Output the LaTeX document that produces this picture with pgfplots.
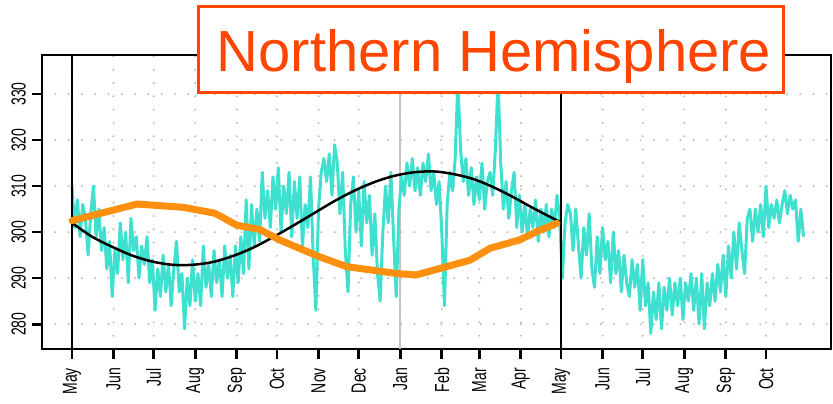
\documentclass[border=0pt]{standalone}
\usepackage{pgfplots}
\pgfplotsset{compat=1.18}
\usepackage{fontspec}
\setmainfont{Liberation Sans}
\usepackage{graphicx}

\definecolor{sst}{RGB}{64,224,208}
\definecolor{clim}{RGB}{255,143,15}
\definecolor{titlered}{RGB}{255,69,0}
\definecolor{gridgray}{RGB}{185,185,185}
\definecolor{jangray}{RGB}{195,195,195}

% tick labels are set a little stretched across their height
\newcommand{\tl}[1]{\scalebox{1}[1.45]{#1}}

\begin{document}
\begin{tikzpicture}
\useasboundingbox (0,0) rectangle (833pt,404pt);
\begin{axis}[
  anchor=south west, at={(42pt,55pt)},
  scale only axis, width=789pt, height=294pt,
  xmin=-22.4, xmax=566.5, ymin=274.6, ymax=338.5,
  axis line style={line width=2.7pt},
  every tick/.style={black, line width=2.7pt},
  tick align=outside, major tick length=10pt, tick pos=left,
  xtick={0,31,61,92,123,153,184,214,245,276,304,335,365,396,426,457,488,518},
  xticklabels={\tl{May},\tl{Jun},\tl{Jul},\tl{Aug},\tl{Sep},\tl{Oct},\tl{Nov},\tl{Dec},\tl{Jan},\tl{Feb},\tl{Mar},\tl{Apr},\tl{May},\tl{Jun},\tl{Jul},\tl{Aug},\tl{Sep},\tl{Oct}},
  ytick={280,290,300,310,320,330},
  yticklabels={\tl{280},\tl{290},\tl{300},\tl{310},\tl{320},\tl{330}},
  tick label style={font=\fontsize{14}{14}\selectfont, inner sep=0pt},
  xticklabel style={rotate=90, anchor=east},
  yticklabel style={rotate=90, anchor=south},
  xticklabel shift=9pt, yticklabel shift=6pt,
  xmajorgrids, ymajorgrids,
  major grid style={gridgray, line width=2.2pt, line cap=round, dash pattern=on 0pt off 13.3pt},
]
% solid marker for the turn of the year
\addplot[jangray, line width=2pt] coordinates {(245,274.6) (245,338.5)};

% daily series, every second day
\addplot[sst, line width=3pt, line join=round] coordinates {
(0,310)(2,301)(4,307)(6,299)(8,306)(10,303)(12,295)(14,304)(16,310)(18,299)
(20,305)(22,296)(24,301)(26,292)(28,298)(30,286)(32,296)(34,291)(36,302)(38,294)
(40,300)(42,289)(44,303)(46,296)(48,299)(50,290)(52,297)(54,293)(56,299)(58,289)
(60,294)(62,283)(64,292)(66,286)(68,295)(70,287)(72,293)(74,284)(76,292)(78,298)
(80,287)(82,291)(84,279)(86,290)(88,284)(90,294)(92,285)(94,291)(96,284)(98,297)
(100,288)(102,293)(104,286)(106,296)(108,289)(110,294)(112,286)(114,297)(116,290)(118,295)
(120,286)(122,297)(124,289)(126,299)(128,291)(130,307)(132,292)(134,306)(136,297)(138,305)
(140,298)(142,313)(144,303)(146,309)(148,301)(150,312)(152,305)(154,314)(156,300)(158,310)
(160,304)(162,313)(164,299)(166,311)(168,303)(170,312)(172,297)(174,306)(176,301)(178,312)
(180,295)(182,283)(184,305)(186,313)(188,316)(190,311)(192,317)(194,308)(196,319)(198,315)
(200,304)(202,313)(204,296)(206,287)(208,306)(210,312)(212,300)(214,309)(216,297)(218,311)
(220,302)(222,308)(224,295)(226,304)(228,291)(230,285)(232,300)(234,310)(236,302)(238,313)
(240,299)(242,286)(244,305)(246,312)(248,308)(250,315)(252,310)(254,316)(256,309)(258,314)
(260,308)(262,315)(264,311)(266,317)(268,309)(270,313)(272,306)(274,311)(276,300)(278,284)
(280,306)(282,313)(284,309)(286,316)(288,333)(290,318)(292,311)(294,316)(296,308)(298,314)
(300,306)(302,312)(304,307)(306,315)(308,305)(310,311)(312,313)(314,308)(316,318)(318,333)
(320,315)(322,305)(324,311)(326,303)(328,309)(330,313)(332,301)(334,308)(336,300)(338,306)
(340,299)(342,305)(344,301)(346,307)(348,298)(350,305)(352,300)(354,306)(356,299)(358,305)
(360,301)(362,308)(364,303)(366,290)(368,302)(370,306)(372,304)(374,296)(376,305)(378,297)
(380,290)(382,301)(384,295)(386,304)(388,292)(390,288)(392,299)(394,291)(396,301)(398,294)
(400,298)(402,289)(404,300)(406,291)(408,296)(410,287)(412,295)(414,289)(416,286)(418,294)
(420,288)(422,293)(424,283)(426,294)(428,284)(430,289)(432,278)(434,287)(436,281)(438,289)
(440,279)(442,288)(444,283)(446,290)(448,282)(450,289)(452,284)(454,290)(456,281)(458,289)
(460,285)(462,291)(464,283)(466,290)(468,280)(470,291)(472,279)(474,289)(476,284)(478,291)
(480,285)(482,293)(484,287)(486,295)(488,286)(490,297)(492,290)(494,300)(496,292)(498,302)
(500,296)(502,291)(504,303)(506,305)(508,298)(510,305)(512,300)(514,306)(516,299)(518,310)
(520,301)(522,306)(524,303)(526,307)(528,302)(530,306)(532,309)(534,304)(536,308)(538,305)
(540,307)(542,298)(544,305)(546,299)
};

% year boundaries
\addplot[black, line width=2pt] coordinates {(0,274.6) (0,338.5)};
\addplot[black, line width=2pt] coordinates {(365,274.6) (365,338.5)};

% seasonal harmonic fit
\addplot[black, line width=2.5pt, smooth] coordinates {
(0,302.0)(15,299.0)(30,296.8)(45,294.9)(60,293.6)(75,292.9)(90,292.9)(105,293.5)
(120,294.8)(135,296.6)(150,298.9)(165,301.4)(180,304.0)(195,306.6)(210,308.9)(225,310.8)
(240,312.2)(255,313.0)(270,313.2)(285,312.6)(300,311.5)(315,309.7)(330,307.5)(345,305.1)(365,302.1)
};

% monthly climatology
\addplot[clim, line width=7pt, line join=round, line cap=round] coordinates {
(0,302.5)(48.5,306.1)(83,305.4)(106.7,304.1)(123,301.5)(140,300.6)(155,298.3)(185,294.6)
(205,292.5)(242.5,291.0)(257,290.7)(297,293.9)(312,296.5)(334,298.3)(349,300.4)(362,301.9)
};
\end{axis}

% title box
\draw[titlered, line width=3pt, fill=white] (198pt,311.3pt) rectangle (783pt,397.3pt);
\node[anchor=base, text=titlered, font=\fontsize{58}{58}\selectfont, inner sep=0pt]
  at (494pt,332.3pt) {Northern Hemisphere};
\end{tikzpicture}
\end{document}
